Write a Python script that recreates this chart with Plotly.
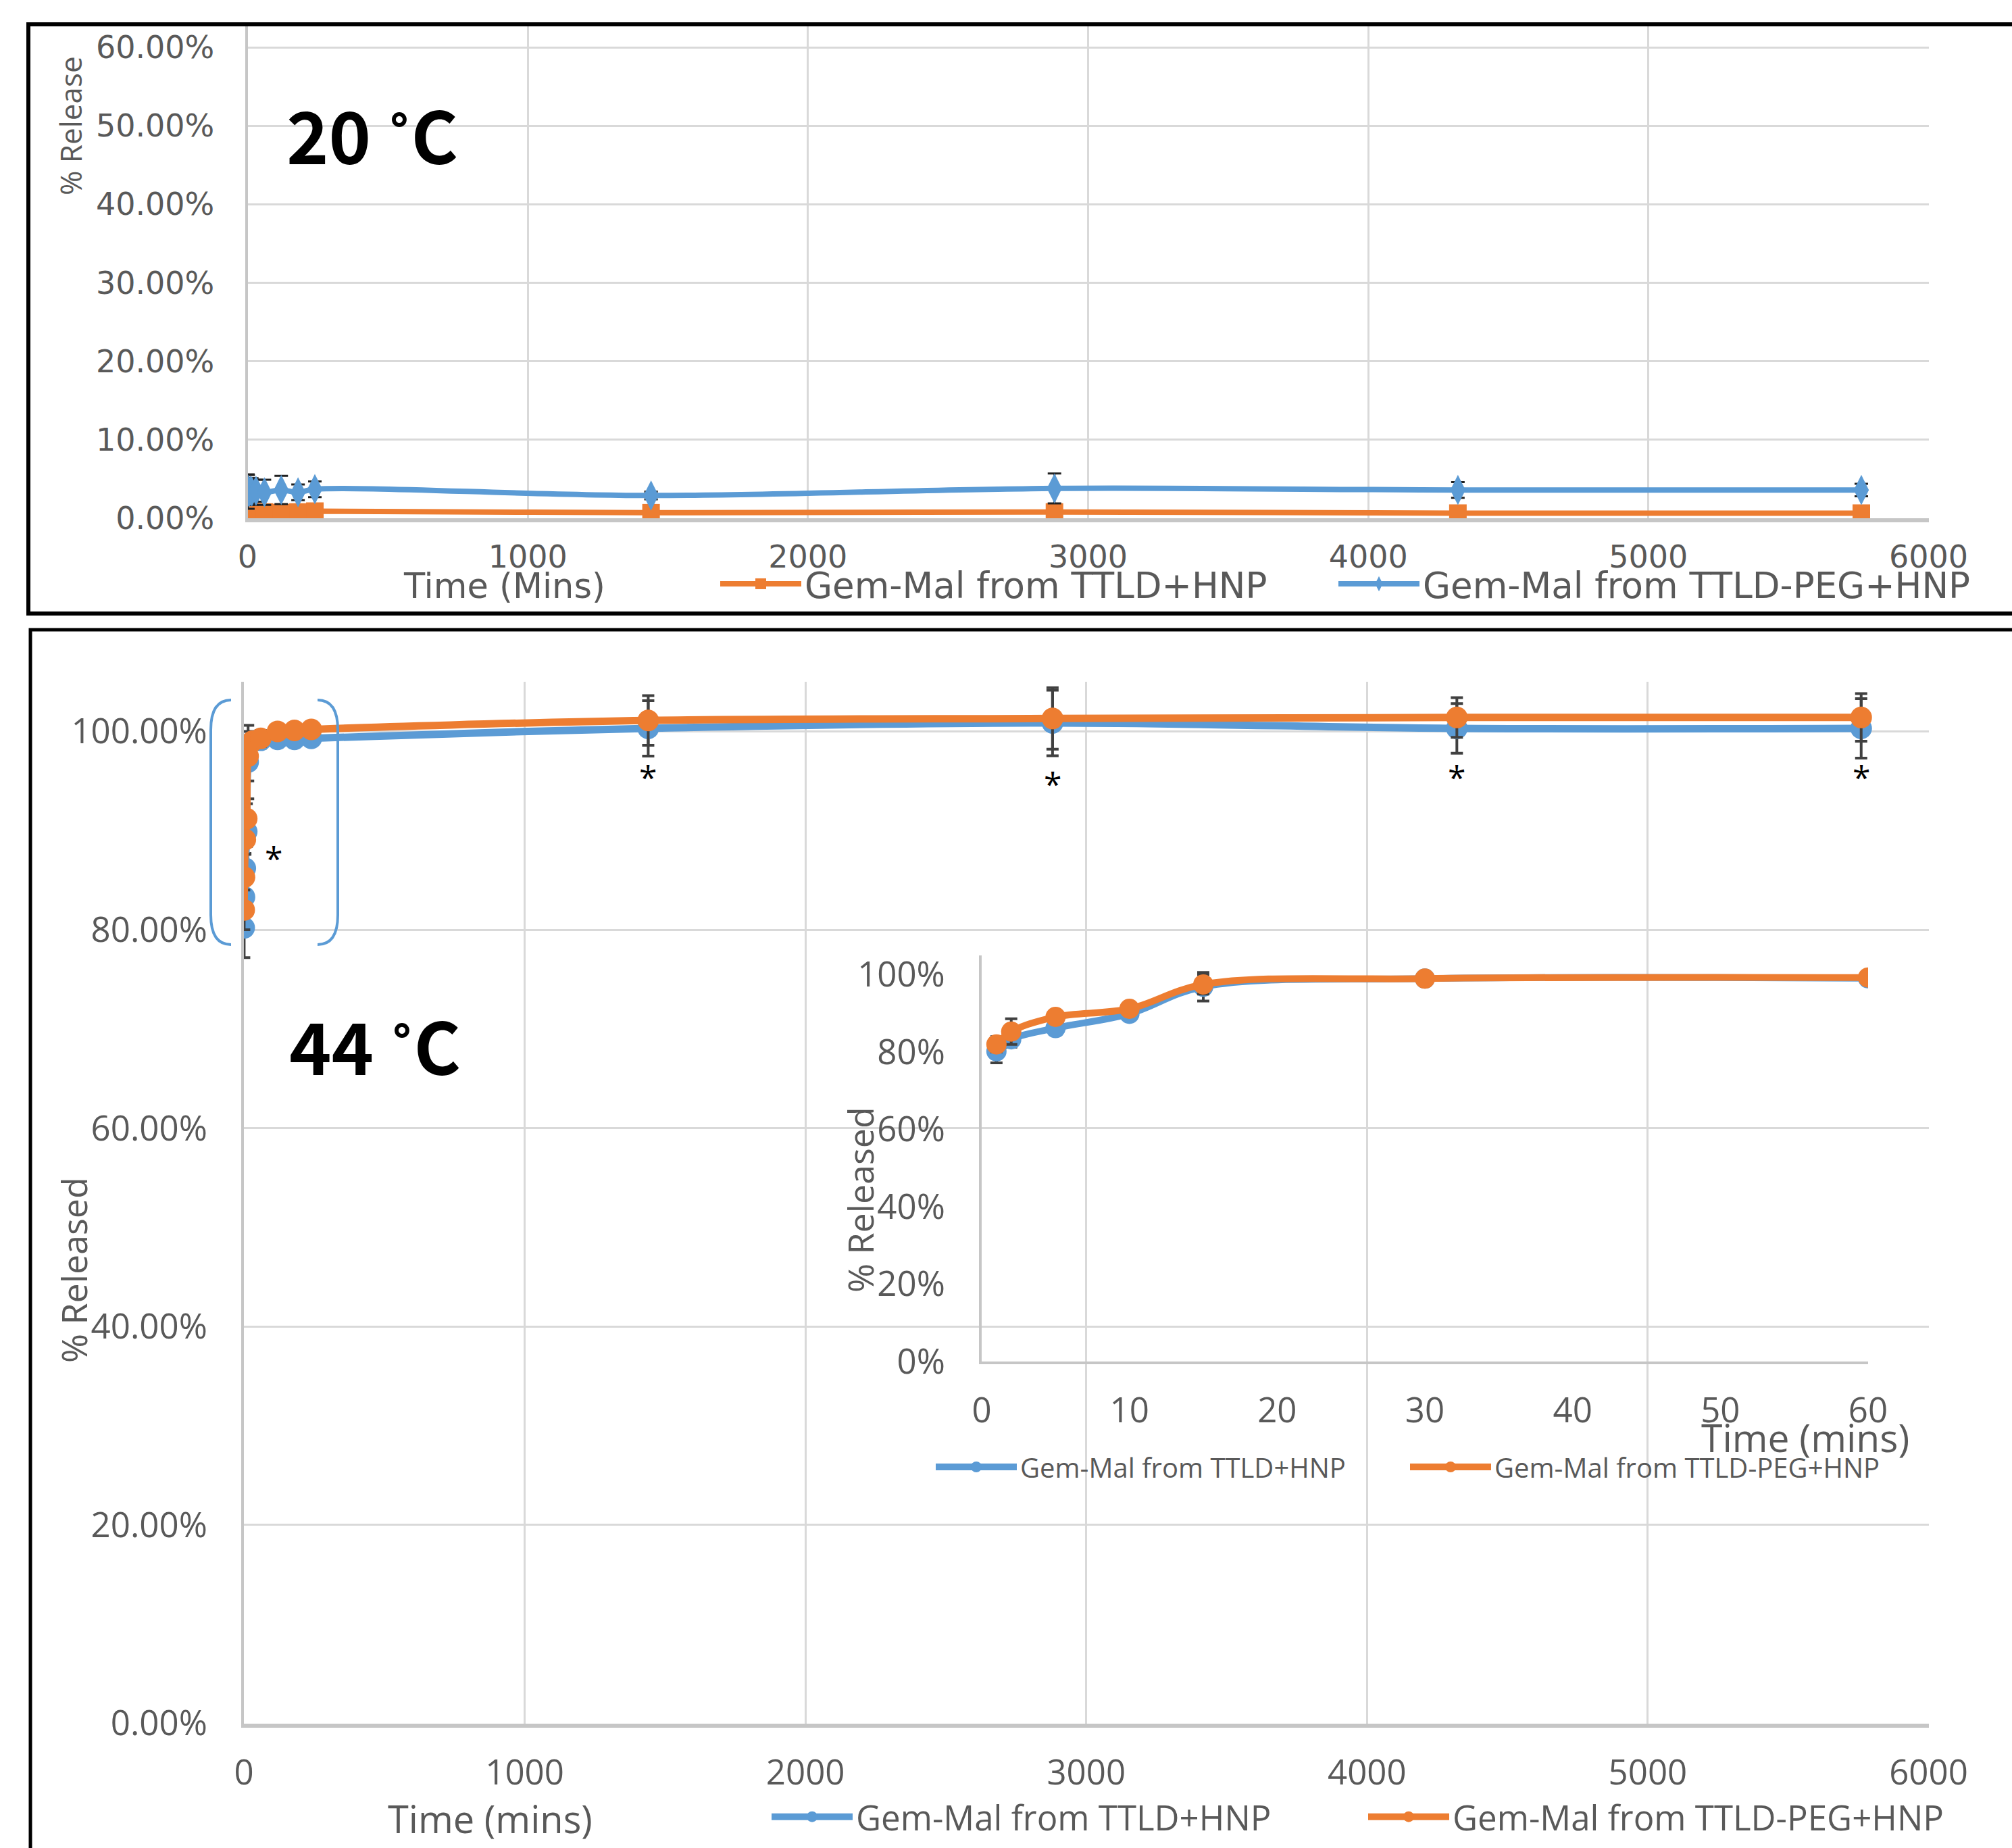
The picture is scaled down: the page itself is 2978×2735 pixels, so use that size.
import plotly.graph_objects as go

W, H = 2978, 2735

# ---------------- data ----------------
time_mins = [1, 2, 5, 10, 15, 30, 60, 120, 180, 240, 1440, 2880, 4320, 5760]

# 20 C panel (% release)
rel20_ttld = [0.8, 0.8, 0.7, 0.8, 0.8, 0.7, 0.8, 0.7, 0.8, 0.9, 0.7, 0.8, 0.65, 0.65]
err20_ttld = [0.2, 0.2, 0.2, 0.2, 0.2, 0.2, 0.2, 0.2, 0.2, 0.2, 0.2, 0.2, 0.2, 0.2]
rel20_peg = [3.4, 3.6, 3.3, 3.5, 3.4, 3.5, 3.3, 3.6, 3.3, 3.7, 2.9, 3.8, 3.6, 3.6]
err20_peg = [2.2, 1.9, 1.5, 1.6, 1.7, 1.4, 1.6, 1.8, 1.0, 1.0, 0.5, 1.9, 1.0, 0.8]

# 44 C panel (% released)
rel44_ttld = [80.2, 83.3, 86.2, 89.9, 96.9, 99.0, 99.1, 99.2, 99.2, 99.3, 100.3, 100.85, 100.3, 100.3]
err44_ttld = [3.0, 2.0, 1.5, 1.5, 3.7, 0.8, 0.8, 0.5, 0.5, 0.5, 2.8, 3.3, 2.5, 3.0]
rel44_peg = [82.0, 85.3, 89.1, 91.2, 97.5, 99.0, 99.3, 100.0, 100.1, 100.2, 101.1, 101.3, 101.4, 101.4]
err44_peg = [2.0, 3.3, 1.5, 1.5, 2.5, 0.8, 0.8, 0.5, 0.5, 0.5, 2.5, 3.1, 2.0, 2.4]

n_inset = 7  # points within the first 60 minutes

y20_ticks = [0, 10, 20, 30, 40, 50, 60]
y44_ticks = [0, 20, 40, 60, 80, 100]

series_ttld = "Gem-Mal from TTLD+HNP"
series_peg = "Gem-Mal from TTLD-PEG+HNP"

star_x = [106, 1440, 2880, 4320, 5760]
star_y = [87.4, 95.6, 94.9, 95.6, 95.6]

ORANGE = "#ed7d31"
BLUE = "#5b9bd5"
GRID = "#d9d9d9"
AXLINE = "#c6c6c6"
TXT = "#595959"
ERR = "#404040"
FONT = "Open Sans"
WIDE = "DejaVu Sans"


def px(x):
    return x / W


def py(y):
    return 1 - y / H


fig = go.Figure()

# ---- top panel (20 C)
fig.add_trace(go.Scatter(
    x=time_mins, y=rel20_ttld, name=series_ttld, mode="lines+markers",
    line=dict(color=ORANGE, width=8, shape="spline"),
    marker=dict(symbol="square", size=26, color=ORANGE),
    error_y=dict(type="data", array=err20_ttld, color=ERR, thickness=3, width=8),
    xaxis="x", yaxis="y", legend="legend"))
fig.add_trace(go.Scatter(
    x=time_mins, y=rel20_peg, name=series_peg, mode="lines+markers",
    line=dict(color=BLUE, width=8, shape="spline"),
    marker=dict(symbol="diamond-tall", size=32, color=BLUE),
    error_y=dict(type="data", array=err20_peg, color="#202020", thickness=3, width=10),
    xaxis="x", yaxis="y", legend="legend2"))

# ---- bottom main panel (44 C)
fig.add_trace(go.Scatter(
    x=time_mins, y=rel44_ttld, name=series_ttld, mode="lines+markers",
    line=dict(color=BLUE, width=11, shape="spline"),
    marker=dict(symbol="circle", size=32, color=BLUE),
    error_y=dict(type="data", array=err44_ttld, color=ERR, thickness=4, width=9),
    xaxis="x2", yaxis="y2", legend="legend3"))
fig.add_trace(go.Scatter(
    x=time_mins, y=rel44_peg, name=series_peg, mode="lines+markers",
    line=dict(color=ORANGE, width=11, shape="spline"),
    marker=dict(symbol="circle", size=32, color=ORANGE),
    error_y=dict(type="data", array=err44_peg, color=ERR, thickness=4, width=9),
    xaxis="x2", yaxis="y2", legend="legend4"))

# ---- inset (first 60 min)
fig.add_trace(go.Scatter(
    x=time_mins[:n_inset], y=rel44_ttld[:n_inset], name=series_ttld, mode="lines+markers",
    line=dict(color=BLUE, width=10, shape="spline"),
    marker=dict(symbol="circle", size=30, color=BLUE),
    error_y=dict(type="data", array=err44_ttld[:n_inset], color=ERR, thickness=4, width=9),
    xaxis="x3", yaxis="y3", legend="legend5"))
fig.add_trace(go.Scatter(
    x=time_mins[:n_inset], y=rel44_peg[:n_inset], name=series_peg, mode="lines+markers",
    line=dict(color=ORANGE, width=10, shape="spline"),
    marker=dict(symbol="circle", size=30, color=ORANGE),
    error_y=dict(type="data", array=err44_peg[:n_inset], color=ERR, thickness=4, width=9),
    xaxis="x3", yaxis="y3", legend="legend6"))

common_x = dict(showgrid=True, gridcolor=GRID, gridwidth=3, zeroline=False, automargin=False,
                showline=True, linecolor=AXLINE, linewidth=6, ticks="")
common_y = dict(showgrid=True, gridcolor=GRID, gridwidth=3, zeroline=False, automargin=False,
                showline=True, linecolor=AXLINE, linewidth=4, ticks="")

ITEMW = 120


def legend_at(text_left, y_center, size, family=FONT):
    return dict(orientation="h", x=px(text_left - ITEMW - 12), y=py(y_center),
                xanchor="left", yanchor="middle", bgcolor="rgba(0,0,0,0)",
                itemwidth=ITEMW, font=dict(family=family, size=size, color=TXT))


fig.update_layout(
    template="none",
    width=W, height=H,
    margin=dict(l=0, r=0, t=0, b=0, pad=0),
    autosize=False,
    paper_bgcolor="white", plot_bgcolor="rgba(0,0,0,0)",
    font=dict(family=FONT, color=TXT),
    xaxis=dict(**common_x, domain=[px(366.5), px(2854.5)], anchor="y",
               range=[0, 6000], dtick=1000, ticklabelstandoff=12,
               tickfont=dict(family=WIDE, size=46, color=TXT)),
    yaxis=dict(**common_y, domain=[py(767), py(38)], anchor="x",
               range=[0, 60 * 729 / 697], tickmode="array", tickvals=y20_ticks,
               ticktext=[f"{v:.2f}%" for v in y20_ticks], ticklabelstandoff=36,
               tickfont=dict(family=WIDE, size=46, color=TXT)),
    xaxis2=dict(**common_x, domain=[px(361), px(2854.5)], anchor="y2",
                range=[0, 6000], dtick=1000, ticklabelstandoff=23,
                tickfont=dict(family=FONT, size=51, color=TXT)),
    yaxis2=dict(**common_y, domain=[py(2550.6), py(1009)], anchor="x2",
                range=[0, 105], tickmode="array", tickvals=y44_ticks,
                ticktext=[f"{v:.2f}%" for v in y44_ticks], ticklabelstandoff=40,
                tickfont=dict(family=FONT, size=51, color=TXT)),
    xaxis3=dict(showgrid=False, zeroline=False, showline=True, linecolor=AXLINE, automargin=False,
                linewidth=4, ticks="", domain=[px(1453), px(2765)], anchor="y3",
                range=[0, 60], dtick=10, ticklabelstandoff=25,
                tickfont=dict(family=FONT, color=TXT, size=51)),
    yaxis3=dict(showgrid=False, zeroline=False, showline=True, linecolor=AXLINE, automargin=False,
                linewidth=4, ticks="", domain=[py(2015), py(1414)], anchor="x3",
                range=[0, 105], tickmode="array", tickvals=y44_ticks,
                ticktext=[f"{v}%" for v in y44_ticks], ticklabelstandoff=40,
                tickfont=dict(family=FONT, color=TXT, size=51)),
    legend=legend_at(1193, 864, 53, WIDE),
    legend2=legend_at(2108, 864, 53, WIDE),
    legend3=legend_at(1269, 2689, 51),
    legend4=legend_at(2152, 2689, 51),
    legend5=legend_at(1512, 2171, 40),
    legend6=legend_at(2214, 2171, 40),
    showlegend=True,
)

annotations = [
    dict(text="% Release", x=px(104), y=py(186), textangle=-90, font=dict(size=44)),
    dict(text="Time (Mins)", x=px(746), y=py(868), font=dict(family=WIDE, size=51)),
    dict(text="20 ˚C", x=px(551), y=py(197),
         font=dict(family="Noto Sans CJK JP", size=106, color="black", weight="bold")),
    dict(text="% Released", x=px(108), y=py(1880), textangle=-90, font=dict(size=52)),
    dict(text="Time (mins)", x=px(725), y=py(2691), font=dict(size=56)),
    dict(text="44 ˚C", x=px(555), y=py(1545),
         font=dict(family="Noto Sans CJK JP", size=106, color="black", weight="bold")),
    dict(text="% Released", x=px(1272), y=py(1776), textangle=-90, font=dict(size=52)),
    dict(text="Time (mins)", x=px(2672), y=py(2127), font=dict(size=57)),
]
for a in annotations:
    a.update(xref="paper", yref="paper", showarrow=False, xanchor="center", yanchor="middle")
    a["font"].setdefault("family", FONT)
    a["font"].setdefault("color", TXT)
for sx, sy in zip(star_x, star_y):
    annotations.append(dict(text="*", x=sx, y=sy, xref="x2", yref="y2", showarrow=False,
                            xanchor="center", yanchor="middle", yshift=-2,
                            font=dict(family=FONT, size=48, color="black")))
fig.update_layout(annotations=annotations)

# panel frames and bracket around the first-hour cluster
shapes = [
    dict(type="rect", xref="paper", yref="paper", x0=px(42), y0=py(908), x1=1.02, y1=py(36),
         line=dict(color="black", width=6), fillcolor="rgba(0,0,0,0)"),
    dict(type="rect", xref="paper", yref="paper", x0=px(45), y0=-0.01, x1=1.02, y1=py(932),
         line=dict(color="black", width=5), fillcolor="rgba(0,0,0,0)"),
]
lx0, lx1, rx0, rx1 = px(312), px(342), px(470), px(500)
yt, yb = py(1036), py(1398)
yt2, yb2 = py(1080), py(1354)
shapes.append(dict(type="path", xref="paper", yref="paper",
                   path=f"M {lx1},{yt} Q {lx0},{yt} {lx0},{yt2} L {lx0},{yb2} Q {lx0},{yb} {lx1},{yb}",
                   line=dict(color=BLUE, width=4)))
shapes.append(dict(type="path", xref="paper", yref="paper",
                   path=f"M {rx0},{yt} Q {rx1},{yt} {rx1},{yt2} L {rx1},{yb2} Q {rx1},{yb} {rx0},{yb}",
                   line=dict(color=BLUE, width=4)))
fig.update_layout(shapes=shapes)

fig.write_html(
    "out.html",
    config={"responsive": False, "displayModeBar": False},
    post_script="document.body.style.margin='0';document.body.style.overflow='hidden';",
)
